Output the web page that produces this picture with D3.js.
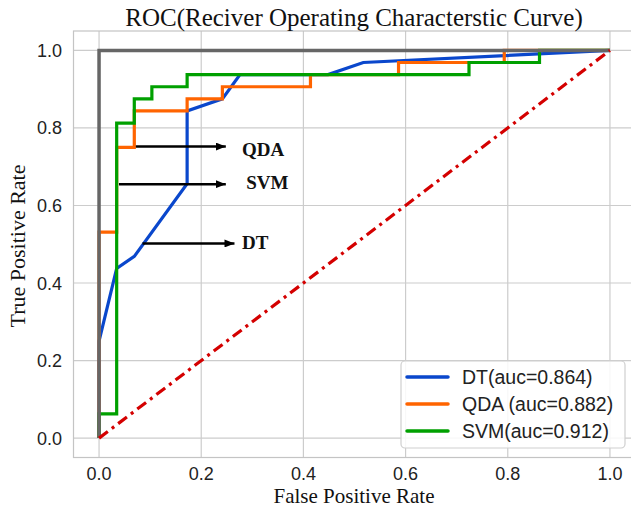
<!DOCTYPE html>
<html>
<head>
<meta charset="utf-8">
<script src="https://cdn.jsdelivr.net/npm/d3@7/dist/d3.min.js"></script>
<style>
  html, body { margin: 0; padding: 0; background: #fff; }
  svg { display: block; }
</style>
</head>
<body>
<svg id="chart" width="631" height="508"></svg>
<script>
// ---- data ----
const xTicks = [0.0, 0.2, 0.4, 0.6, 0.8, 1.0];
const yTicks = [0.0, 0.2, 0.4, 0.6, 0.8, 1.0];

const dtFpr  = [0, 0, 0.0345, 0.069, 0.1724, 0.1724, 0.2414, 0.2759, 0.4483, 0.5172, 1];
const dtTpr  = [0, 0.25, 0.4375, 0.46875, 0.65625, 0.84375, 0.875, 0.9375, 0.9375, 0.96875, 1];

const qdaFpr = [0, 0, 0.0345, 0.0345, 0.069, 0.069, 0.1724, 0.1724, 0.2414, 0.2414, 0.4138, 0.4138, 0.5862, 0.5862, 0.7931, 0.7931, 1];
const qdaTpr = [0, 0.53125, 0.53125, 0.75, 0.75, 0.84375, 0.84375, 0.875, 0.875, 0.90625, 0.90625, 0.9375, 0.9375, 0.96875, 0.96875, 1, 1];

const svmFpr = [0, 0, 0.0345, 0.0345, 0.069, 0.069, 0.1034, 0.1034, 0.1724, 0.1724, 0.7241, 0.7241, 0.8621, 0.8621, 1];
const svmTpr = [0, 0.0625, 0.0625, 0.8125, 0.8125, 0.875, 0.875, 0.90625, 0.90625, 0.9375, 0.9375, 0.96875, 0.96875, 1, 1];

const perfectFpr = [0, 0, 1];
const perfectTpr = [0, 1, 1];
const chanceFpr = [0, 1];
const chanceTpr = [0, 1];

const seriesNames = ["DT(auc=0.864)", "QDA (auc=0.882)", "SVM(auc=0.912)"];
const seriesColors = ["#0a47cc", "#ff6400", "#00a000"];

const annotations = [
  { label: "QDA", x0: 0.072, x1: 0.252, y: 0.752, tx: 0.280, ty: 0.728 },
  { label: "SVM", x0: 0.039, x1: 0.252, y: 0.655, tx: 0.288, ty: 0.643 },
  { label: "DT",  x0: 0.085, x1: 0.269, y: 0.502, tx: 0.280, ty: 0.487 }
];

// ---- layout ----
const svg = d3.select("#chart");
const pLeft = 73.5, pRight = 635.5, pTop = 31, pBottom = 457.5;
const x = d3.scaleLinear().domain([-0.05, 1.05]).range([pLeft, pRight]);
const y = d3.scaleLinear().domain([-0.05, 1.05]).range([pBottom, pTop]);
const serif = "'Liberation Serif', 'Times New Roman', serif";
const sans = "'Liberation Sans', Arial, sans-serif";

// grid
const g = svg.append("g");
g.selectAll(".gx").data(xTicks).enter().append("line")
  .attr("x1", d => x(d)).attr("x2", d => x(d))
  .attr("y1", pTop).attr("y2", pBottom)
  .attr("stroke", "#cccccc").attr("stroke-width", 1.2);
g.selectAll(".gy").data(yTicks).enter().append("line")
  .attr("x1", pLeft).attr("x2", pRight)
  .attr("y1", d => y(d)).attr("y2", d => y(d))
  .attr("stroke", "#cccccc").attr("stroke-width", 1.2);
// frame
g.append("rect").attr("x", pLeft).attr("y", pTop)
  .attr("width", pRight - pLeft).attr("height", pBottom - pTop)
  .attr("fill", "none").attr("stroke", "#c4c4c4").attr("stroke-width", 1.2);

// tick labels
svg.selectAll(".xt").data(xTicks).enter().append("text")
  .attr("x", d => x(d)).attr("y", 480)
  .attr("text-anchor", "middle")
  .style("font-family", sans).style("font-size", "18px").attr("fill", "#222")
  .text(d => d.toFixed(1));
svg.selectAll(".yt").data(yTicks).enter().append("text")
  .attr("x", 62).attr("y", d => y(d) + 6.5)
  .attr("text-anchor", "end")
  .style("font-family", sans).style("font-size", "18px").attr("fill", "#222")
  .text(d => d.toFixed(1));

// axis labels & title
svg.append("text").attr("x", 354).attr("y", 502.5)
  .attr("text-anchor", "middle")
  .style("font-family", serif).style("font-size", "21px").attr("fill", "#111")
  .text("False Positive Rate");
svg.append("text")
  .attr("transform", `translate(25, 246) rotate(-90)`)
  .attr("text-anchor", "middle")
  .style("font-family", serif).style("font-size", "22px").attr("fill", "#111")
  .text("True Positive Rate");
svg.append("text").attr("x", 354).attr("y", 26)
  .attr("text-anchor", "middle")
  .style("font-family", serif).style("font-size", "25px").attr("fill", "#111")
  .text("ROC(Reciver Operating Characterstic Curve)");

// curves
const line = d3.line().x(d => x(d[0])).y(d => y(d[1]));
const zip = (a, b) => a.map((v, i) => [v, b[i]]);
const curves = [zip(dtFpr, dtTpr), zip(qdaFpr, qdaTpr), zip(svmFpr, svmTpr)];
curves.forEach((c, i) => {
  svg.append("path").datum(c).attr("d", line)
    .attr("fill", "none").attr("stroke", seriesColors[i])
    .attr("stroke-width", 3.2).attr("stroke-linejoin", "miter");
});
svg.append("path").datum(zip(perfectFpr, perfectTpr)).attr("d", line)
  .attr("fill", "none").attr("stroke", "#666666").attr("stroke-width", 3.5);
svg.append("path").datum(zip(chanceFpr, chanceTpr)).attr("d", line)
  .attr("fill", "none").attr("stroke", "#d40000").attr("stroke-width", 3.2)
  .attr("stroke-dasharray", "11,5,3,5");

// annotations
const defs = svg.append("defs");
defs.append("marker").attr("id", "arrow")
  .attr("viewBox", "0 0 10 8").attr("refX", 10).attr("refY", 4)
  .attr("markerWidth", 10).attr("markerHeight", 8)
  .attr("markerUnits", "userSpaceOnUse").attr("orient", "auto")
  .append("path").attr("d", "M0,0 L10,4 L0,8 Z").attr("fill", "#000");
annotations.forEach(a => {
  svg.append("line")
    .attr("x1", x(a.x0)).attr("x2", x(a.x1) - 2)
    .attr("y1", y(a.y)).attr("y2", y(a.y))
    .attr("stroke", "#000").attr("stroke-width", 2.5)
    .attr("marker-end", "url(#arrow)");
  svg.append("text").attr("x", x(a.tx)).attr("y", y(a.ty))
    .style("font-family", serif).style("font-size", "19px").style("font-weight", "bold")
    .attr("fill", "#111").text(a.label);
});

// legend
const lg = svg.append("g");
lg.append("rect").attr("x", 401).attr("y", 361).attr("width", 224).attr("height", 87)
  .attr("rx", 4).attr("fill", "rgba(255,255,255,0.85)")
  .attr("stroke", "#cfcfcf").attr("stroke-width", 1.2);
seriesNames.forEach((n, i) => {
  const yy = 377 + i * 27;
  lg.append("line").attr("x1", 407).attr("x2", 448).attr("y1", yy).attr("y2", yy)
    .attr("stroke", seriesColors[i]).attr("stroke-width", 3.5).attr("stroke-linecap", "round");
  lg.append("text").attr("x", 462).attr("y", yy + 7)
    .style("font-family", sans).style("font-size", "19.5px").attr("fill", "#222")
    .text(n);
});
</script>
</body>
</html>
